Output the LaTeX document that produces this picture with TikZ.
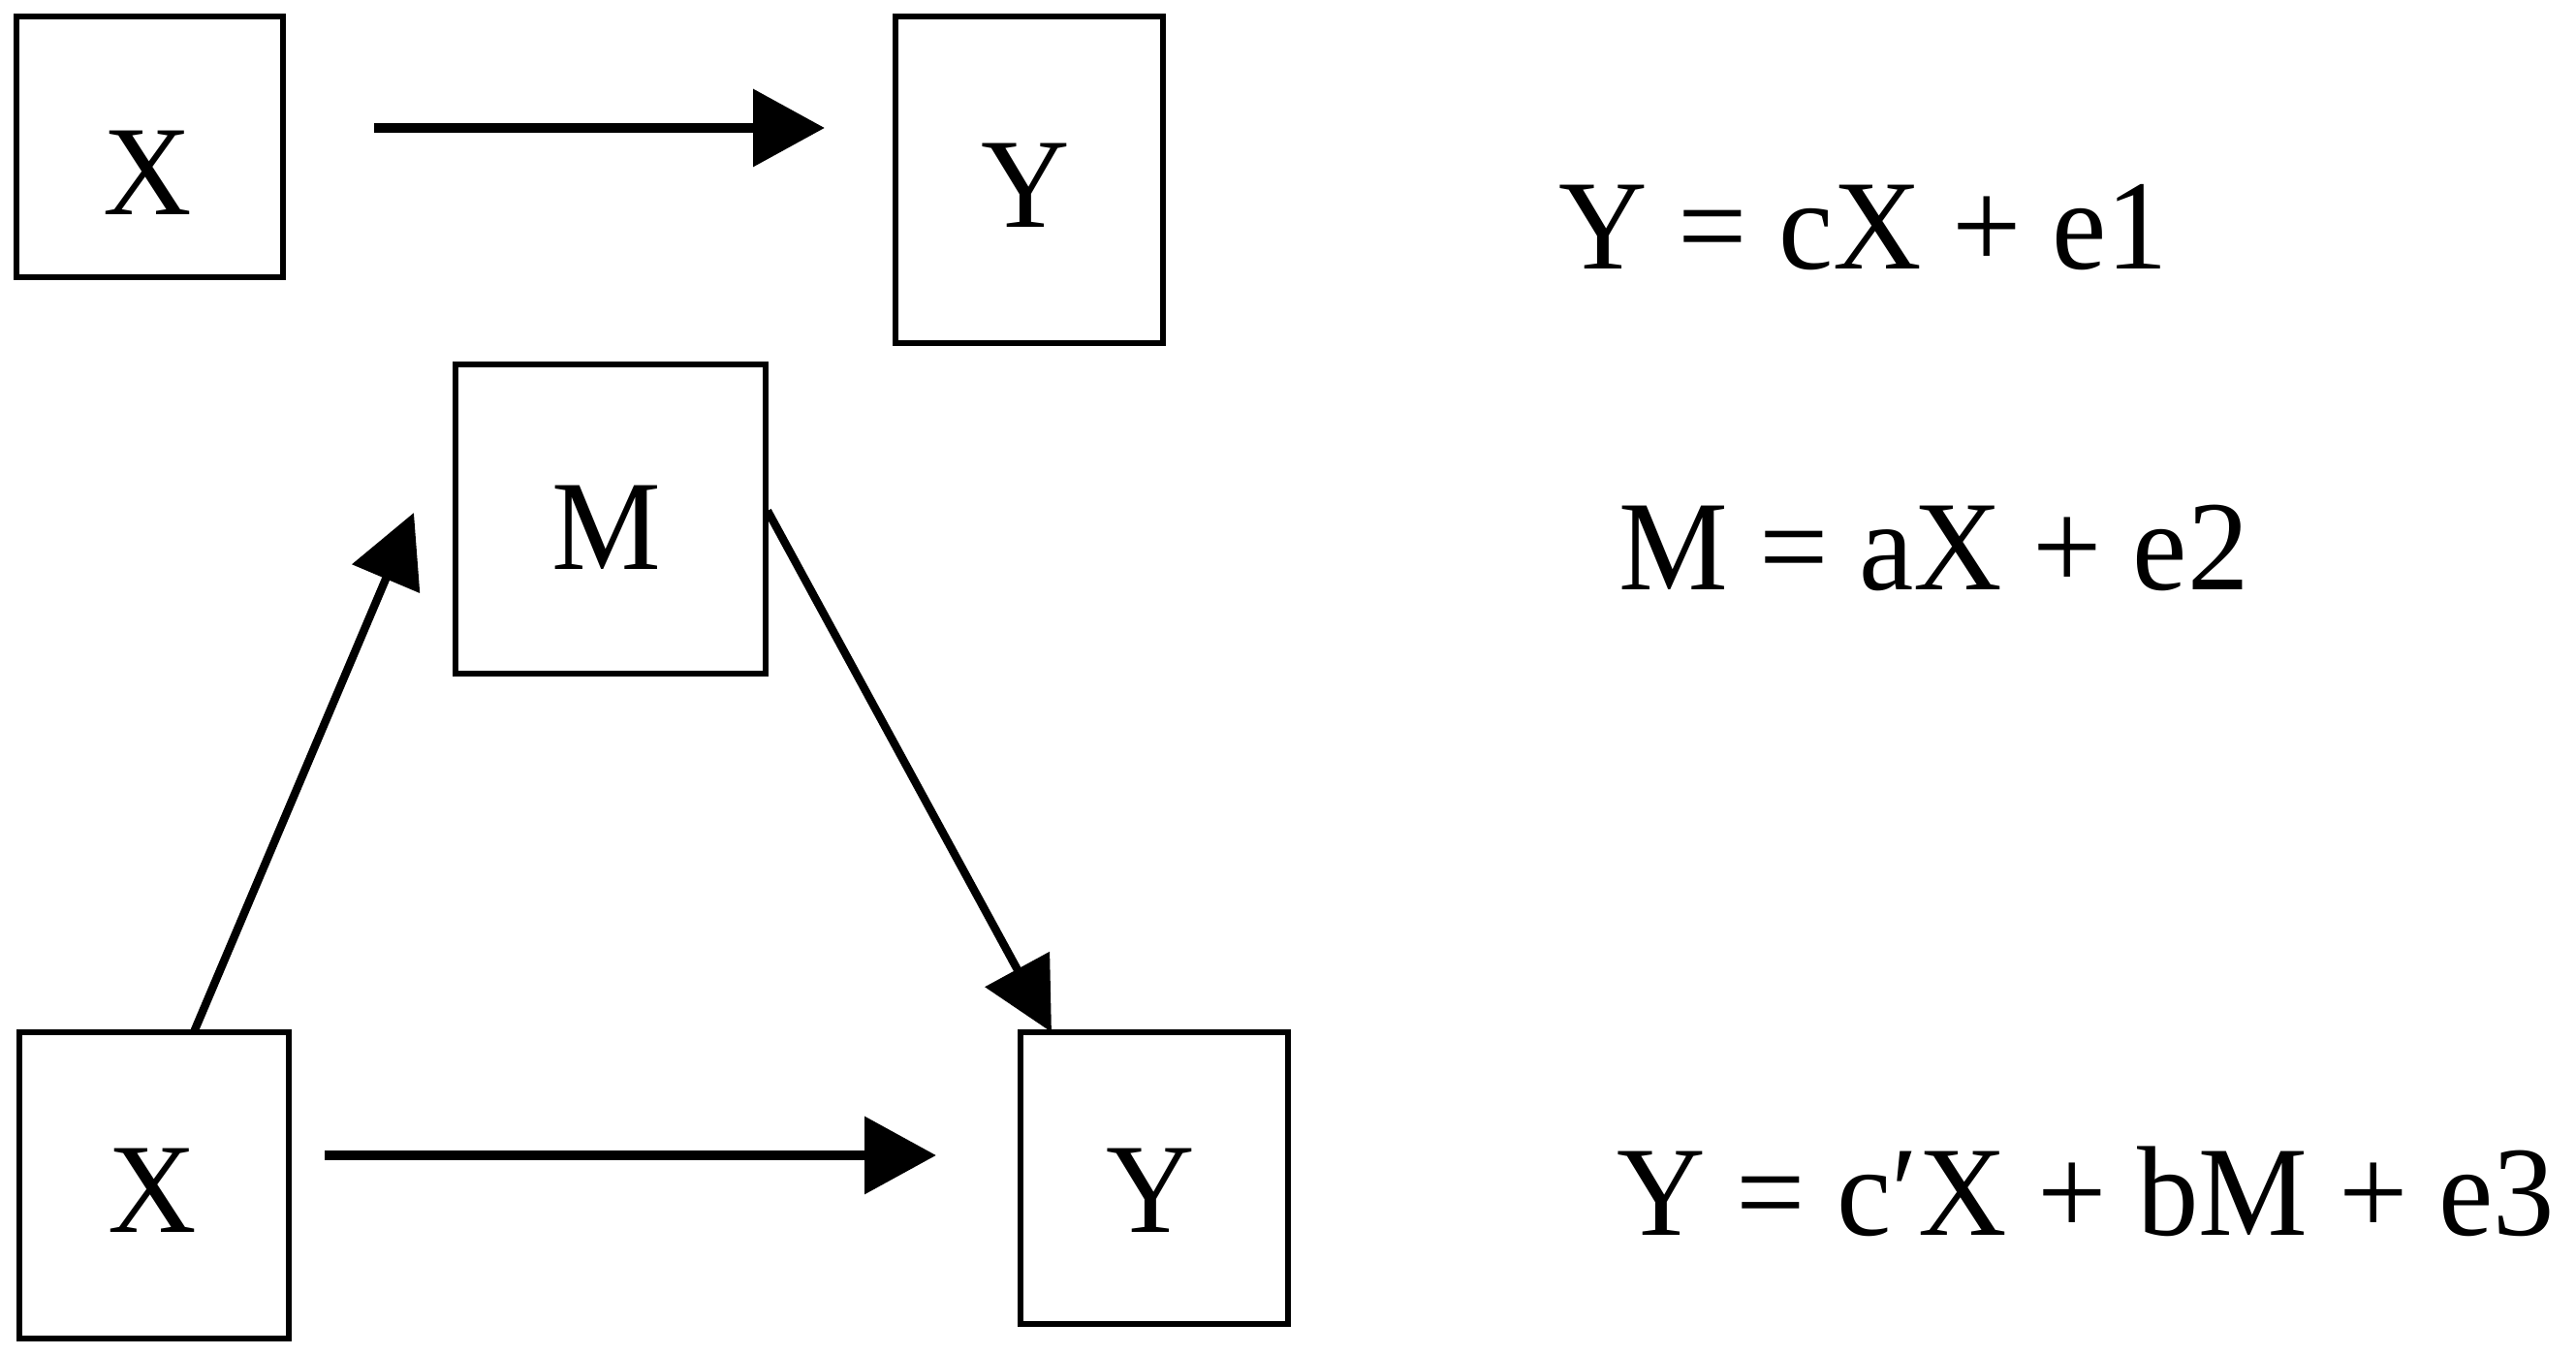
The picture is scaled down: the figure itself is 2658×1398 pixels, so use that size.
\documentclass[tikz,border=0pt]{standalone}
\usepackage{fontspec}
\setmainfont{Liberation Serif}[FakeStretch=0.96]
\usetikzlibrary{arrows.meta,calc}
\begin{document}
\begin{tikzpicture}[x=0.25pt,y=-0.25pt,
  box/.style={draw,line width=1.5pt,inner sep=0pt,outer sep=0pt},
  lbl/.style={inner sep=0pt,anchor=base,font=\fontsize{33pt}{40pt}\selectfont},
  eq/.style={inner sep=0pt,anchor=base west,font=\fontsize{33pt}{40pt}\selectfont},
  harr/.style={line width=2.6pt,-{Triangle[length=18.5pt,width=19.5pt]}},
  darr/.style={line width=2.1pt,-{Triangle[length=18.5pt,width=18.5pt]}}]
\useasboundingbox (0,0) rectangle (2658,1398);
% boxes
\node[box,minimum width=68.75pt,minimum height=67.25pt] (X1) at (154.5,151.5) {};
\node[box,minimum width=69pt,minimum height=84.25pt] (Y1) at (1062,185.5) {};
\node[box,minimum width=80pt,minimum height=79.75pt] (M) at (630,535.5) {};
\node[box,minimum width=69.5pt,minimum height=79pt] (X2) at (159,1223) {};
\node[box,minimum width=69pt,minimum height=75.25pt] (Y2) at (1191,1215.5) {};
% letters
\node[lbl] (tX1) at (152,222) {X};
\node[lbl] (tY1) at (1058,235) {Y};
\node[lbl] (tM) at (626,588) {M};
\node[lbl] (tX2) at (157,1272) {X};
\node[lbl] (tY2) at (1187,1272) {Y};
% equations
\node[eq] (e1) at (1608,278) {Y = cX + e1};
\node[eq] (e2) at (1670,609) {M = aX + e2};
\node[eq] (e3) at (1668,1275) {Y = c′X + bM + e3};
% arrows
\draw[harr] ($(X1.north east)+(94,115)$) -- ($(Y1.north west)+(-73,115)$);
\draw[darr] ($(X2.north west)+(180,0)$) -- ($(M.north west)+(-43,153)$);
\draw[darr] ($(M.north east)+(2,151)$) -- ($(Y2.north west)+(32,0)$);
\draw[harr] ($(X2.north east)+(37,127)$) -- ($(Y2.north west)+(-87,127)$);
\end{tikzpicture}
\end{document}
